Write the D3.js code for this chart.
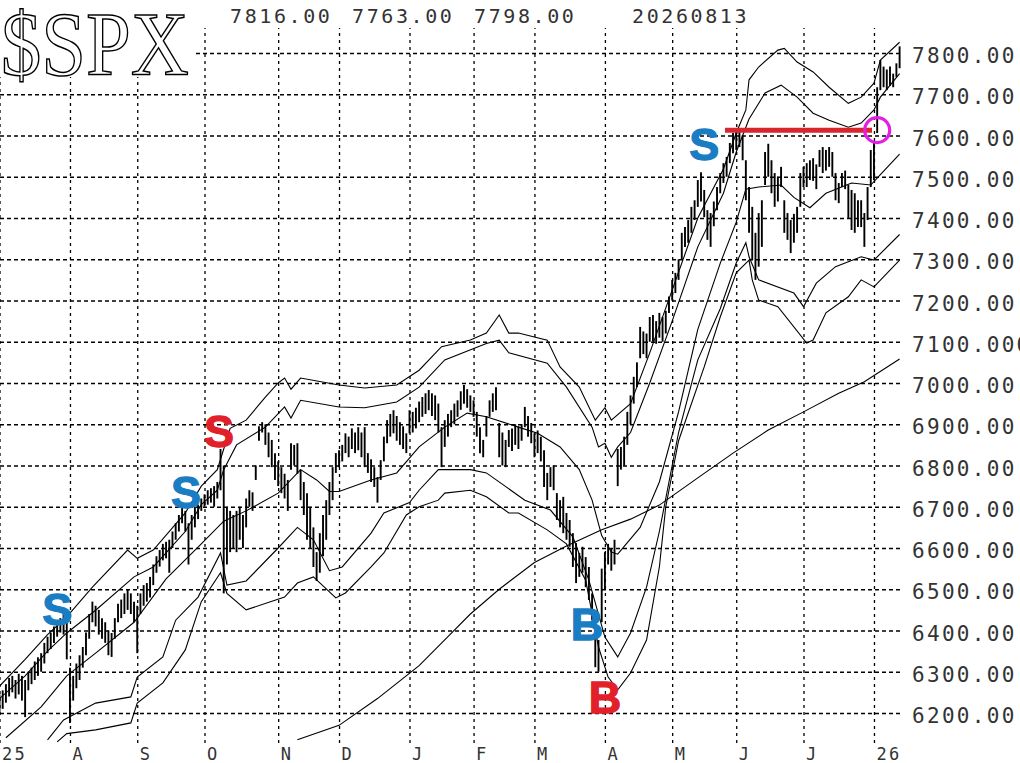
<!DOCTYPE html>
<html>
<head>
<meta charset="utf-8">
<script src="https://cdn.jsdelivr.net/npm/d3@7/dist/d3.min.js"></script>
<style>
body { margin: 0; background: #fff; }
svg { display: block; }
</style>
</head>
<body>
<svg id="chart" width="1020" height="763"></svg>
<script>
// ---- data (trading-day index, price) ----
var monthLen = [22, 21, 21, 23, 19, 22, 20, 19, 22, 21, 20, 21, 22, 9];
var monthLabels = ["25", "A", "S", "O", "N", "D", "J", "F", "M", "A", "M", "J", "J", "26"];

var yTicks = [6200, 6300, 6400, 6500, 6600, 6700, 6800, 6900, 7000, 7100, 7200, 7300, 7400, 7500, 7600, 7700, 7800];
var yTickLabels = ["6200.00", "6300.00", "6400.00", "6500.00", "6600.00", "6700.00", "6800.00", "6900.00", "7000.00",
  "7100.000", "7200.00", "7300.00", "7400.00", "7500.00", "7600.00", "7700.00", "7800.00"];

var header = ["7816.00", "7763.00", "7798.00", "20260813"];

// daily lows / highs, one row per month
var lo = [
  6195,6210,6225,6240,6250,6235,6245,6230,6190,6255,6270,6280,6290,6300,6320,6345,6355,6370,6385,6395,6390,6330,
  6176,6230,6260,6280,6310,6340,6380,6420,6410,6390,6380,6370,6340,6336,6380,6420,6430,6440,6450,6440,6420,
  6345,6440,6460,6470,6480,6510,6540,6555,6570,6575,6540,6600,6620,6640,6660,6640,6560,6620,6650,6670,6690,
  6700,6705,6710,6700,6720,6740,6490,6560,6590,6600,6590,6620,6600,6650,6700,6690,6765,6860,6880,6850,6820,6796,6765,
  6750,6733,6720,6690,6790,6800,6780,6716,6680,6620,6600,6554,6520,6540,6580,6620,6680,6716,6782,
  6796,6810,6830,6820,6840,6830,6837,6820,6796,6782,6760,6748,6710,6765,6810,6854,6870,6878,6860,6850,6840,6830,
  6878,6880,6890,6905,6918,6925,6934,6920,6910,6880,6796,6845,6870,6893,6900,6918,6935,6950,6940,6930,
  6918,6870,6830,6820,6870,6918,6930,6934,6820,6800,6796,6845,6835,6850,6840,6860,6893,6870,6854,
  6820,6830,6810,6748,6716,6748,6740,6668,6650,6636,6620,6603,6554,6515,6530,6540,6505,6474,6425,6311,6300,6420,
  6500,6560,6545,6560,6750,6790,6800,6850,6900,6950,6990,7060,7070,7060,7100,7100,7095,7110,7100,7120,7170,
  7200,7218,7250,7300,7330,7340,7364,7395,7427,7440,7402,7347,7330,7380,7419,7460,7485,7500,7533,7557,
  7565,7572,7540,7443,7364,7298,7250,7282,7330,7480,7500,7460,7427,7440,7475,7364,7347,7315,7340,7364,7427,
  7475,7475,7492,7490,7470,7524,7509,7515,7524,7500,7443,7436,7475,7470,7400,7371,7364,7378,7378,7330,7395,7475,
  7492,7606,7710,7717,7710,7720,7717,7742,7763
];
var hi = [
  6245,6255,6270,6285,6290,6280,6295,6290,6280,6300,6310,6325,6335,6345,6370,6385,6395,6410,6420,6430,6440,6420,
  6310,6290,6320,6340,6360,6395,6440,6470,6460,6450,6430,6420,6400,6394,6430,6465,6475,6490,6500,6490,6470,
  6460,6490,6510,6515,6530,6560,6580,6595,6610,6615,6620,6640,6660,6680,6700,6690,6660,6680,6700,6705,6720,
  6730,6740,6745,6750,6760,6840,6800,6700,6690,6680,6690,6700,6680,6720,6740,6735,6800,6895,6905,6900,6880,6862,6830,
  6810,6796,6780,6765,6854,6850,6854,6790,6760,6733,6700,6650,6590,6636,6680,6716,6760,6796,6830,
  6837,6850,6878,6870,6890,6880,6893,6880,6893,6830,6815,6796,6772,6813,6870,6910,6925,6934,6920,6905,6895,6878,
  6934,6930,6940,6955,6966,6975,6983,6975,6970,6950,6893,6910,6925,6934,6950,6958,6980,6995,6985,6970,
  6958,6930,6893,6862,6920,6958,6975,6990,6903,6880,6862,6886,6890,6900,6895,6900,6942,6920,6903,
  6878,6885,6870,6837,6782,6796,6800,6733,6716,6724,6685,6668,6636,6612,6588,6603,6578,6554,6490,6425,6377,6550,
  6590,6610,6600,6620,6840,6845,6870,6930,6970,7015,7050,7136,7125,7120,7160,7165,7150,7170,7160,7175,7210,
  7250,7267,7300,7364,7378,7395,7427,7443,7492,7511,7468,7419,7412,7440,7475,7509,7533,7548,7582,7606,
  7613,7616,7600,7540,7475,7427,7364,7412,7443,7560,7580,7540,7509,7500,7524,7443,7412,7395,7410,7427,7509,
  7524,7533,7540,7545,7530,7565,7572,7565,7572,7560,7509,7485,7509,7515,7480,7468,7460,7443,7443,7412,7475,7565,
  7582,7717,7783,7767,7760,7767,7750,7775,7816
];

// band lines: [day, value]
var upperOuter = [[0,6265],[8,6330],[15,6390],[21,6433],[29,6505],[40,6595],[43,6575],[48,6595],[58,6685],[63,6750],
  [68,6790],[70,6840],[72,6890],[77,6910],[83,6966],[87,7000],[89,7012],[91,6985],[94,7012],[106,6995],[114,6988],
  [124,6995],[131,7031],[138,7088],[147,7104],[152,7121],[156,7165],[159,7121],[162,7121],[171,7104],[175,7039],
  [181,6990],[186,6910],[189,6940],[191,6910],[197,6950],[203,7073],[210,7225],[218,7400],[226,7519],[230,7606],
  [233,7662],[234,7735],[237,7766],[243,7807],[245,7811],[249,7778],[254,7754],[259,7717],[265,7678],[269,7693],
  [273,7727],[275,7783],[281,7826]];
var upperInner = [[0,6235],[8,6290],[15,6350],[21,6394],[30,6449],[42,6530],[48,6554],[58,6640],[63,6705],[68,6740],
  [70,6790],[74,6850],[83,6893],[89,6942],[91,6915],[94,6958],[106,6942],[114,6940],[124,6954],[131,6990],[139,7056],
  [152,7096],[156,7104],[159,7073],[171,7048],[177,6990],[185,6893],[187,6845],[189,6854],[191,6820],[193,6845],
  [197,6880],[203,7000],[210,7150],[218,7330],[226,7460],[230,7560],[234,7640],[239,7703],[244,7722],[249,7693],
  [254,7654],[259,7637],[265,7620],[269,7630],[273,7662],[275,7693],[281,7750]];
var middle = [[2,6140],[13,6215],[21,6290],[30,6345],[42,6420],[52,6525],[63,6610],[70,6665],[77,6690],[87,6733],
  [94,6790],[99,6765],[103,6737],[106,6737],[116,6765],[124,6782],[131,6845],[139,6893],[146,6927],[152,6918],
  [162,6893],[168,6878],[175,6845],[181,6790],[185,6716],[188,6630],[191,6590],[193,6585],[200,6650],[206,6760],
  [212,6930],[218,7130],[225,7290],[230,7390],[233,7470],[237,7475],[244,7480],[248,7450],[253,7425],[258,7460],
  [266,7485],[272,7480],[275,7505],[281,7555]];
var lowerInner = [[15,6135],[20,6183],[30,6224],[41,6239],[43,6287],[51,6336],[55,6425],[62,6481],[69,6588],[71,6510],
  [77,6520],[87,6600],[93,6650],[98,6620],[103,6545],[107,6554],[116,6636],[120,6685],[128,6710],[131,6740],
  [137,6790],[147,6790],[152,6782],[164,6716],[172,6692],[179,6627],[184,6522],[189,6384],[193,6336],[197,6394],
  [202,6505],[206,6640],[209,6760],[212,6880],[218,7056],[225,7180],[230,7291],[233,7340],[234,7306],[237,7250],
  [248,7218],[251,7185],[255,7242],[261,7282],[269,7306],[273,7298],[281,7360]];
var lowerOuter = [[18,6130],[21,6150],[30,6159],[41,6176],[43,6224],[51,6273],[58,6353],[63,6470],[69,6540],[71,6490],
  [77,6450],[89,6481],[93,6515],[98,6530],[105,6479],[108,6491],[116,6554],[120,6588],[127,6680],[131,6700],
  [137,6716],[139,6733],[147,6740],[152,6724],[159,6685],[162,6685],[171,6644],[177,6610],[183,6522],[187,6360],
  [190,6287],[193,6256],[197,6297],[202,6377],[206,6554],[208,6700],[212,6860],[220,7039],[225,7160],[230,7267],
  [234,7298],[235,7250],[237,7201],[243,7185],[252,7097],[254,7104],[258,7170],[265,7209],[269,7250],[273,7233],
  [281,7298]];
var ma200 = [[93,6135],[106,6170],[118,6235],[131,6315],[140,6385],[147,6440],[156,6500],[167,6565],[177,6605],
  [188,6644],[197,6670],[206,6704],[218,6770],[229,6830],[240,6886],[251,6930],[262,6975],[270,7003],[281,7058]];

// signals: letter, day, price level of the letter baseline, kind
var sigText = ["S", "S", "S", "B", "B", "S"];
var sigDay = [18, 58.2, 68.5, 183.4, 189, 220];
var sigLevel = [6413, 6697, 6845, 6377, 6200, 7541];
var sigKind = ["blue", "blue", "red", "blue", "red", "blue"];

var resistFrom = 226.5, resistTo = 272.4, resistLevel = 7613;
var markDay = 274, markLevel = 7613;

// ---- drawing ----
var svg = d3.select("#chart");
var mono = "'DejaVu Sans Mono', monospace";

var x = d3.scaleLinear().domain([0, 281]).range([-0.5, 899.6]);
var y = d3.scaleLinear().domain([6200, 7800]).range([713, 53]);
var sigColor = d3.scaleOrdinal().domain(["blue", "red"]).range(["#1a7dc3", "#e1202a"]);

var monthStart = [];
var acc = 0;
monthLen.forEach(function(n) { monthStart.push(acc); acc += n; });

// horizontal grid + right labels
var yAxis = d3.axisRight(y).tickValues(yTicks).tickSize(-900).tickPadding(12)
  .tickFormat(function(d, i) { return yTickLabels[i]; });
var gy = svg.append("g").attr("transform", "translate(900,0)").call(yAxis);
gy.select(".domain").remove();
gy.selectAll("line").attr("stroke", "#000").attr("stroke-width", 1.3).attr("stroke-dasharray", "4,3");
gy.selectAll("text").attr("dy", null).attr("y", 9.5)
  .style("font-family", mono).style("font-size", "21px").style("letter-spacing", "2.3px").attr("fill", "#333");

// vertical grid + month labels
var xAxis = d3.axisBottom(x).tickValues(monthStart).tickSize(-715)
  .tickFormat(function(d, i) { return monthLabels[i]; });
var gx = svg.append("g").attr("transform", "translate(0,743)").call(xAxis);
gx.select(".domain").remove();
gx.selectAll("line").attr("stroke", "#000").attr("stroke-width", 1.3).attr("stroke-dasharray", "3,4");
gx.selectAll("text").attr("dy", null).attr("y", 17).attr("x", 2).attr("text-anchor", "start")
  .style("font-family", mono).style("font-size", "17px").style("letter-spacing", "2.3px").attr("fill", "#333");

// plot marks
svg.append("clipPath").attr("id", "plotclip").append("rect")
  .attr("x", 0).attr("y", 0).attr("width", 901).attr("height", 743);
var plot = svg.append("g").attr("clip-path", "url(#plotclip)");

var line = d3.line().x(function(d) { return x(d[0]); }).y(function(d) { return y(d[1]); });
[upperOuter, upperInner, middle, lowerInner, lowerOuter, ma200].forEach(function(s) {
  plot.append("path").datum(s).attr("d", line)
    .attr("fill", "none").attr("stroke", "#000").attr("stroke-width", 1.1);
});

plot.selectAll("line.bar").data(d3.range(hi.length)).enter().append("line")
  .attr("class", "bar")
  .attr("x1", function(d) { return x(d); })
  .attr("x2", function(d) { return x(d); })
  .attr("y1", function(d) { return y(hi[d]); })
  .attr("y2", function(d) { return y(lo[d]); })
  .attr("stroke", "#000").attr("stroke-width", 1.9);

// resistance line and marker
plot.append("line")
  .attr("x1", x(resistFrom)).attr("x2", x(resistTo))
  .attr("y1", y(resistLevel)).attr("y2", y(resistLevel))
  .attr("stroke", "#d8262e").attr("stroke-width", 5);
plot.append("circle")
  .attr("cx", x(markDay)).attr("cy", y(markLevel)).attr("r", 12.5)
  .attr("fill", "none").attr("stroke", "#e41ee4").attr("stroke-width", 3.2);

// signals
svg.selectAll("text.sig").data(sigText).enter().append("text")
  .attr("class", "sig")
  .attr("x", function(d, i) { return x(sigDay[i]); })
  .attr("y", function(d, i) { return y(sigLevel[i]); })
  .attr("text-anchor", "middle")
  .style("font-family", "'Liberation Sans', Arial, sans-serif")
  .style("font-weight", "bold").style("font-size", "45px")
  .attr("fill", function(d, i) { return sigColor(sigKind[i]); })
  .attr("stroke", function(d, i) { return sigColor(sigKind[i]); })
  .attr("stroke-width", 1.3)
  .text(function(d) { return d; });

// title block
svg.append("rect").attr("x", 0).attr("y", 0).attr("width", 193).attr("height", 77).attr("fill", "#fff");
svg.append("text").attr("x", 1).attr("y", 75)
  .attr("textLength", 188).attr("lengthAdjust", "spacingAndGlyphs")
  .style("font-family", "'Liberation Serif', 'DejaVu Serif', serif").style("font-size", "90px")
  .attr("fill", "#fff").attr("stroke", "#000").attr("stroke-width", 1.5)
  .text("$SPX");

// header values
var headerX = [230, 352, 474, 632];
svg.selectAll("text.hdr").data(header).enter().append("text")
  .attr("class", "hdr")
  .attr("x", function(d, i) { return headerX[i]; })
  .attr("y", 23)
  .style("font-family", mono).style("font-size", "20px").style("letter-spacing", "2.6px")
  .attr("fill", "#333")
  .text(function(d) { return d; });
</script>
</body>
</html>
